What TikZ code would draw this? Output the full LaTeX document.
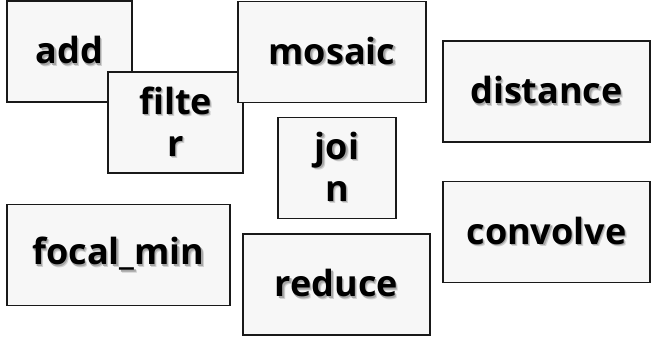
\documentclass[tikz,border=0pt]{standalone}
\usepackage{fontspec}
\setmainfont{Open Sans}
\definecolor{boxfill}{HTML}{F7F7F7}
% soft drop shadow under each line of text
\newcommand{\shd}[1]{\rlap{\textcolor{black!18}{\kern1.1pt\raisebox{-1.1pt}{#1}}}\rlap{\textcolor{black!35}{\kern0.6pt\raisebox{-0.6pt}{#1}}}#1}

\begin{document}
\begin{tikzpicture}[
			x=0.5pt, y=-0.5pt,
			Op/.style={draw=black!90, line width=0.9pt, fill=boxfill,
				minimum height=50.5pt, inner sep=0pt, outer sep=0pt,
				align=center, font=\fontsize{18}{21}\selectfont\bfseries},
			]
			\useasboundingbox (0,0) rectangle (656,336);
			
			\node [Op, minimum width=62.5pt] (add) at (69.5,51.5) {\shd{add}};
			\node [Op, minimum width=67.5pt] (filter) at (175.5,122.5) {\shd{filte}\\\shd{r}};
			\node [Op, minimum width=94pt] (mosaic) at (332,52) {\shd{mosaic}};
			\node [Op, minimum width=59pt] (join) at (337,168) {\shd{joi}\\\shd{n}};
			
			\node [Op, minimum width=103.5pt] (distance) at (546.5,91.5) {\shd{distance}};
			\node [Op, minimum width=103.5pt] (convolve) at (546.5,232) {\shd{convolve}};
			
			\node [Op, minimum width=111.5pt] (focal) at (118.5,255) {\shd{focal\_min}};
			\node [Op, minimum width=93.5pt] (reduce) at (336.5,284.5) {\shd{reduce}};
		\end{tikzpicture}
\end{document}
